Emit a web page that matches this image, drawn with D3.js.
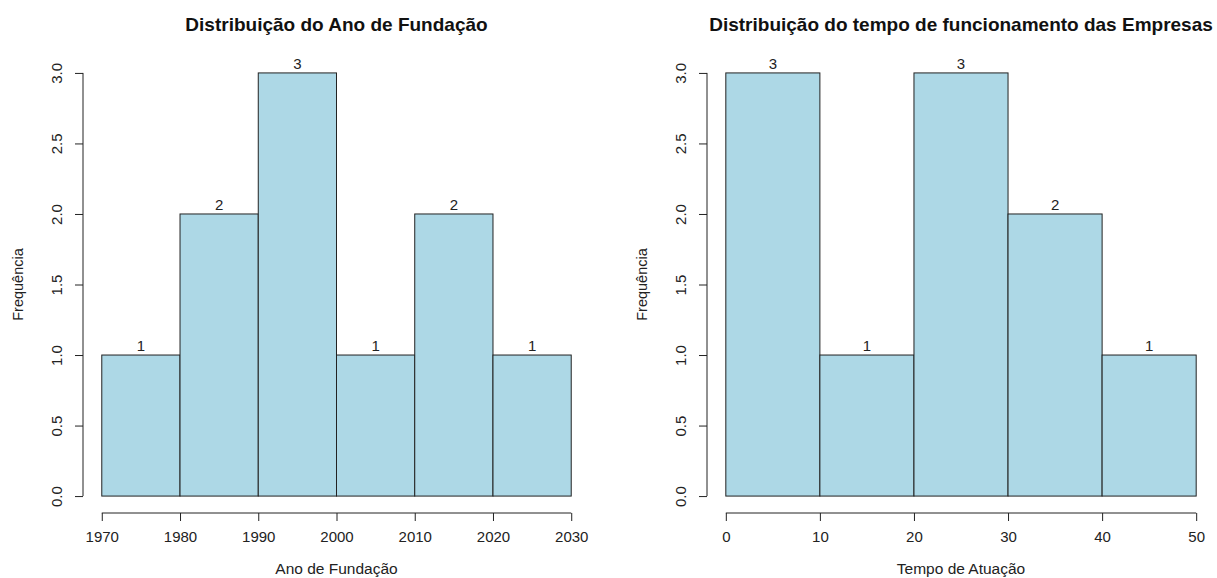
<!DOCTYPE html>
<html><head><meta charset="utf-8">
<script src="https://cdn.jsdelivr.net/npm/d3@7"></script>
<style>
body{margin:0;background:#fff;}
svg{display:block;font-family:"Liberation Sans",Arial,Helvetica,sans-serif;}
</style></head>
<body>
<svg id="c" width="1217" height="578"></svg>
<script>
// Data
const leftBreaks = [1970, 1980, 1990, 2000, 2010, 2020, 2030];
const leftCounts = [1, 2, 3, 1, 2, 1];
const rightBreaks = [0, 10, 20, 30, 40, 50];
const rightCounts = [3, 1, 3, 2, 1];
const yTicks = [0, 0.5, 1, 1.5, 2, 2.5, 3];
const leftXTicks = [1970, 1980, 1990, 2000, 2010, 2020, 2030];
const rightXTicks = [0, 10, 20, 30, 40, 50];
const panels = [
  {title: "Distribuição do Ano de Fundação", xlab: "Ano de Fundação", ylab: "Frequência",
   breaks: leftBreaks, counts: leftCounts, xticks: leftXTicks, left: 83, right: 590},
  {title: "Distribuição do tempo de funcionamento das Empresas", xlab: "Tempo de Atuação", ylab: "Frequência",
   breaks: rightBreaks, counts: rightCounts, xticks: rightXTicks, left: 707, right: 1215}
];

const svg = d3.select("#c");
const plotTop = 56, plotBottom = 513;
const ink = "#222";

panels.forEach(p => {
  const xmin = p.breaks[0], xmax = p.breaks[p.breaks.length - 1];
  const pad = (xmax - xmin) * 0.04;
  const x = d3.scaleLinear().domain([xmin - pad, xmax + pad]).range([p.left, p.right]);
  const ymax = 3, ypad = ymax * 0.04;
  const y = d3.scaleLinear().domain([-ypad, ymax + ypad]).range([plotBottom, plotTop]);
  const g = svg.append("g");

  const bins = p.counts.map((c, i) => ({x0: p.breaks[i], x1: p.breaks[i + 1], c}));
  g.selectAll("rect.bar").data(bins).enter().append("rect")
    .attr("x", d => x(d.x0)).attr("width", d => x(d.x1) - x(d.x0))
    .attr("y", d => y(d.c)).attr("height", d => y(0) - y(d.c))
    .attr("fill", "#ADD8E6").attr("stroke", ink).attr("stroke-width", 1);

  g.selectAll("text.lab").data(bins).enter().append("text")
    .attr("x", d => x((d.x0 + d.x1) / 2)).attr("y", d => y(d.c) - 4)
    .attr("text-anchor", "middle").attr("font-size", 15).attr("fill", ink)
    .text(d => d.c);

  // x axis
  const xa = g.append("g").attr("transform", `translate(0,${plotBottom})`)
    .call(d3.axisBottom(x).tickValues(p.xticks).tickSize(8).tickPadding(10).tickFormat(d3.format("d")));
  xa.select(".domain").attr("d", `M${x(xmin)},0H${x(xmax)}`).attr("stroke", ink);
  xa.selectAll(".tick line").attr("stroke", ink);
  xa.selectAll("text").attr("font-size", 15).attr("fill", ink).attr("font-family", "Liberation Sans, Arial, sans-serif");

  // y axis
  const ya = g.append("g").attr("transform", `translate(${p.left},0)`)
    .call(d3.axisLeft(y).tickValues(yTicks).tickSize(8).tickFormat(d3.format(".1f")));
  ya.select(".domain").attr("d", `M0,${y(0)}V${y(3)}`).attr("stroke", ink);
  ya.selectAll(".tick line").attr("stroke", ink);
  ya.selectAll(".tick text")
    .attr("x", null).attr("dy", null)
    .attr("transform", "translate(-21,0) rotate(-90)")
    .attr("text-anchor", "middle")
    .attr("font-size", 15).attr("fill", ink).attr("font-family", "Liberation Sans, Arial, sans-serif");

  // titles
  g.append("text").attr("x", (p.left + p.right) / 2).attr("y", 31)
    .attr("text-anchor", "middle").attr("font-weight", "bold").attr("font-size", 19).attr("fill", "#111")
    .text(p.title);
  g.append("text").attr("x", (p.left + p.right) / 2).attr("y", 574)
    .attr("text-anchor", "middle").attr("font-size", 15.5).attr("fill", ink)
    .text(p.xlab);
  g.append("text").attr("transform", `translate(${p.left - 60},${(plotTop + plotBottom) / 2}) rotate(-90)`)
    .attr("text-anchor", "middle").attr("font-size", 14.5).attr("fill", ink)
    .text(p.ylab);
});
</script>
</body></html>
